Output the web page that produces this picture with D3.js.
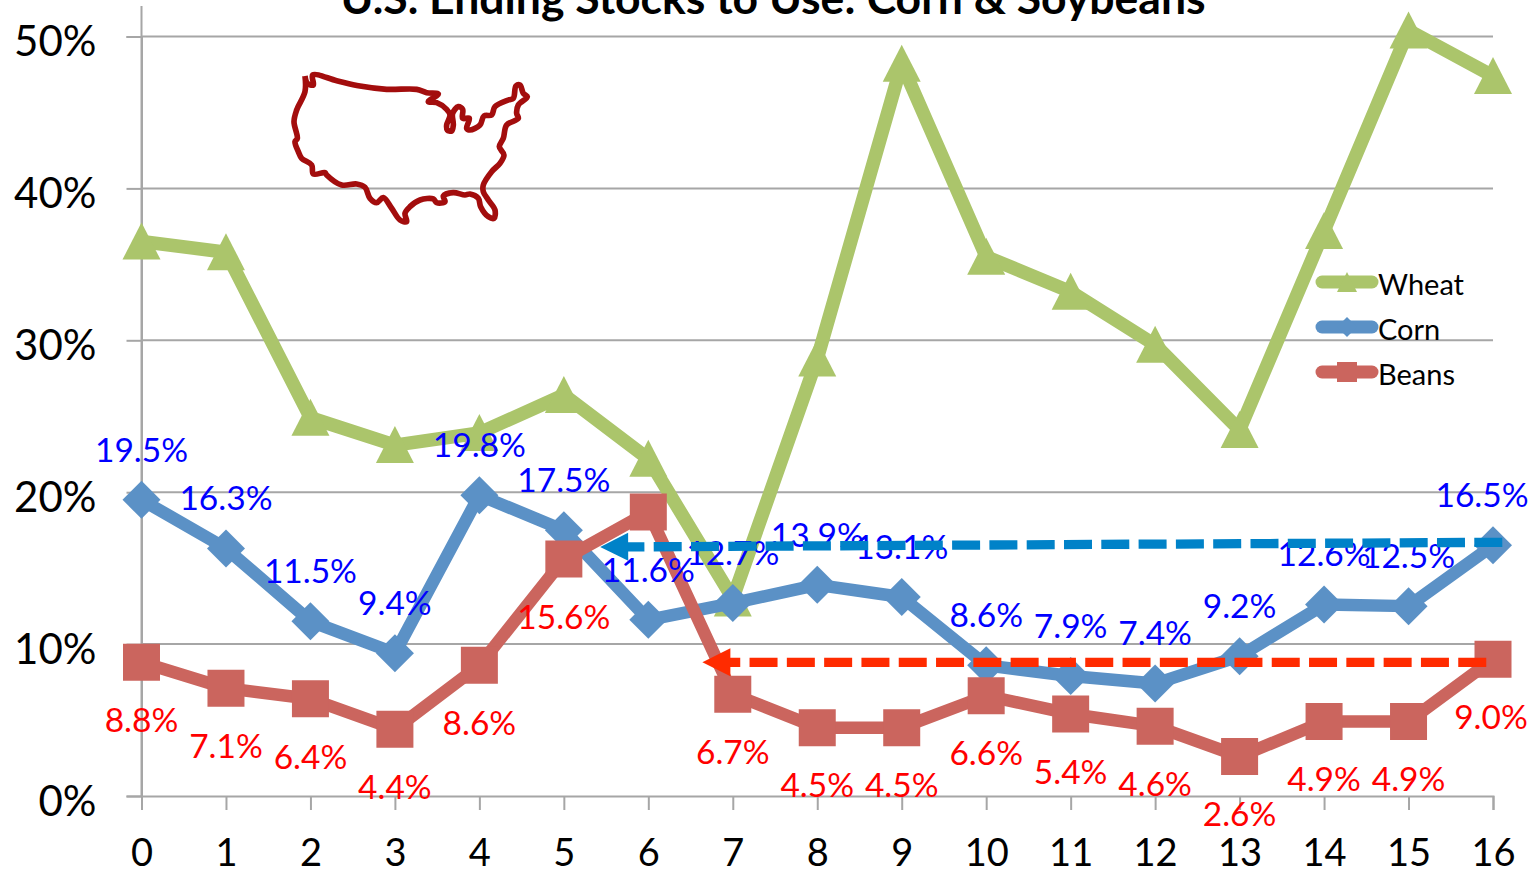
<!DOCTYPE html>
<html>
<head>
<meta charset="utf-8">
<script src="https://cdn.jsdelivr.net/npm/d3@7"></script>
<style>
	html, body { margin: 0; padding: 0; background: #fff; overflow: hidden; }
	text { font-family: Lato, "Open Sans", sans-serif; }
	.tick line, .domain { stroke: #a6a6a6; stroke-width: 2; }
</style>
</head>
<body>
<div class="chart"></div>
<script>
const years = d3.range(0, 17);
const yTicks = [0, 10, 20, 30, 40, 50];
const wheat = [36.5, 35.8, 24.9, 23.1, 23.9, 26.4, 22.2, 13.0, 28.8, 48.2, 35.5, 33.2, 29.7, 24.1, 37.2, 50.4, 47.4];
const corn = [19.5, 16.3, 11.5, 9.4, 19.8, 17.5, 11.6, 12.7, 13.9, 13.1, 8.6, 7.9, 7.4, 9.2, 12.6, 12.5, 16.5];
const beans = [8.8, 7.1, 6.4, 4.4, 8.6, 15.6, 18.7, 6.7, 4.5, 4.5, 6.6, 5.4, 4.6, 2.6, 4.9, 4.9, 9.0];
const hiddenBeanLabels = [6];
const legendNames = ["Wheat", "Corn", "Beans"];
// dashed arrows: [from x, from value, to x, to value]
const cornArrow = [16.11, 16.7, 5.43, 16.4];
const beanArrow = [15.92, 8.8, 6.64, 8.8];
// map outline
const usOutline = [[105,78],[112,100],[130,105],[128,75],[200,92],[270,108],[350,118],[440,118],[470,128],[505,132],[475,155],[500,158],[530,178],[540,195],[530,225],[532,240],[545,243],[550,225],[548,190],[565,170],[578,178],[578,205],[598,205],[590,235],[600,240],[630,225],[642,198],[665,195],[675,170],[715,150],[730,145],[738,108],[750,105],[760,130],[772,140],[745,165],[740,190],[745,205],[710,225],[700,265],[688,290],[702,315],[690,340],[665,365],[640,405],[640,425],[655,450],[675,480],[672,505],[655,500],[632,470],[625,445],[600,432],[585,435],[550,428],[520,438],[525,455],[500,458],[490,447],[450,450],[420,470],[405,490],[410,515],[390,510],[365,475],[340,443],[320,458],[300,445],[285,412],[260,402],[215,405],[170,375],[165,368],[130,372],[125,345],[95,325],[85,305],[75,275],[82,265],[72,215],[80,180],[105,125],[105,78]];

const width = 1535;
const height = 873;

const scaleX = d3.scaleLinear().domain([0, 16]).range([141.5, 1493]);
const scaleY = d3.scaleLinear().domain([0, 50]).range([796, 36.5]);

const colors = { wheat: "#abc56b", corn: "#5b91c6", beans: "#cb655e" };
const triangle = "M0,-19L19,18L-19,18Z";
const square = "M-18.5,-18.5H18.5V18.5H-18.5Z";
const diamond = "M0,-19L19,0L0,19L-19,0Z";

const svg = d3.select(".chart")
	.append("svg")
		.attr("width", width)
		.attr("height", height)
		.style("display", "block");

svg.append("text")
	.attr("x", 773)
	.attr("y", 13.5)
	.attr("text-anchor", "middle")
	.attr("font-size", 44.5)
	.attr("font-weight", 700)
	.text("U.S. Ending Stocks to Use: Corn & Soybeans");

// gridlines
svg.append("g")
	.selectAll("line")
		.data(yTicks.slice(1)).enter()
	.append("line")
		.attr("x1", scaleX(0))
		.attr("x2", scaleX(16))
		.attr("y1", (d) => scaleY(d))
		.attr("y2", (d) => scaleY(d))
		.attr("stroke", "#a6a6a6")
		.attr("stroke-width", 2);

// axes
const xAxis = d3.axisBottom(scaleX).tickValues(years).tickSize(14).tickPadding(29).tickFormat((d) => d);
svg.append("g")
	.attr("transform", `translate(0,${scaleY(0)})`)
	.call(xAxis)
	.call((g) => g.selectAll("text").attr("font-size", 38).attr("fill", "#000"));

const yAxis = d3.axisLeft(scaleY).tickValues(yTicks).tickSize(15).tickPadding(30).tickFormat((d) => `${d}%`);
svg.append("g")
	.attr("transform", `translate(${scaleX(0)},0)`)
	.call(yAxis)
	.call((g) => g.selectAll("text").attr("font-size", 42).attr("fill", "#000").attr("dy", "0.46em"));

svg.append("line")
	.attr("x1", scaleX(0))
	.attr("x2", scaleX(0))
	.attr("y1", scaleY(52))
	.attr("y2", scaleY(0))
	.attr("stroke", "#a6a6a6")
	.attr("stroke-width", 2);

// map
svg.append("path")
	.attr("transform", "translate(270,50) scale(0.3333)")
	.attr("d", d3.line().curve(d3.curveCatmullRom)(usOutline))
	.attr("fill", "none")
	.attr("stroke", "#a30d0d")
	.attr("stroke-width", 17)
	.attr("stroke-linejoin", "round");

// series
const line = d3.line().x((d, i) => scaleX(i)).y((d) => scaleY(d));

function drawSeries(values, color, marker, lineWidth) {
	svg.append("path")
		.attr("d", line(values))
		.attr("fill", "none")
		.attr("stroke", color)
		.attr("stroke-width", lineWidth)
		.attr("stroke-linejoin", "round");
	svg.append("g")
		.selectAll("path")
			.data(values).enter()
		.append("path")
			.attr("d", marker)
			.attr("fill", color)
			.attr("transform", (d, i) => `translate(${scaleX(i)},${scaleY(d)})`);
}

drawSeries(wheat, colors.wheat, triangle, 13.5);
drawSeries(corn, colors.corn, diamond, 12.5);
drawSeries(beans, colors.beans, square, 12.5);

// value labels
svg.append("g")
	.selectAll("text")
		.data(corn).enter()
	.append("text")
		.attr("x", (d, i) => scaleX(i) - (i === 16 ? 11 : 0))
		.attr("y", (d) => scaleY(d) - 50)
		.attr("dy", "0.35em")
		.attr("text-anchor", "middle")
		.attr("font-size", 33.5)
		.attr("fill", "#0000ff")
		.text((d) => `${d.toFixed(1)}%`);

const beanLabels = beans
	.map((value, i) => ({ value, i }))
	.filter((d) => !hiddenBeanLabels.includes(d.i));

svg.append("g")
	.selectAll("text")
		.data(beanLabels).enter()
	.append("text")
		.attr("x", (d) => scaleX(d.i) - (d.i === 16 ? 2 : 0))
		.attr("y", (d) => scaleY(d.value) + 58)
		.attr("dy", "0.35em")
		.attr("text-anchor", "middle")
		.attr("font-size", 33.5)
		.attr("fill", "#ff0000")
		.text((d) => `${d.value.toFixed(1)}%`);

// dashed arrows
function drawArrow(a, color) {
	const tip = [scaleX(a[2]), scaleY(a[3])];
	const start = [scaleX(a[0]), scaleY(a[1])];
	const angle = Math.atan2(start[1] - tip[1], start[0] - tip[0]);
	svg.append("line")
		.attr("x1", start[0])
		.attr("y1", start[1])
		.attr("x2", tip[0] + 27)
		.attr("y2", tip[1])
		.attr("stroke", color)
		.attr("stroke-width", 9.3)
		.attr("stroke-dasharray", "28,9.3");
	svg.append("path")
		.attr("d", "M0,0L28,-14V14Z")
		.attr("fill", color)
		.attr("transform", `translate(${tip[0]},${tip[1]}) rotate(${angle * 180 / Math.PI})`);
}

drawArrow(cornArrow, "#0082c8");
drawArrow(beanArrow, "#ff2b00");

// legend
const legendMarkers = [
	{ color: colors.wheat, d: "M0,-10L10,10H-10Z" },
	{ color: colors.corn, d: "M0,-10L10,0L0,10L-10,0Z" },
	{ color: colors.beans, d: "M-10,-10H10V10H-10Z" }
];
const legendY = d3.scalePoint().domain(legendNames).range([282, 372]);

const legend = svg.append("g")
	.selectAll("g")
		.data(legendNames).enter()
	.append("g")
		.attr("transform", (d) => `translate(0,${legendY(d)})`);

legend.append("line")
	.attr("x1", 1322)
	.attr("x2", 1372)
	.attr("stroke", (d, i) => legendMarkers[i].color)
	.attr("stroke-width", 13)
	.attr("stroke-linecap", "round");

legend.append("path")
	.attr("transform", "translate(1347,0)")
	.attr("d", (d, i) => legendMarkers[i].d)
	.attr("fill", (d, i) => legendMarkers[i].color);

legend.append("text")
	.attr("x", 1378)
	.attr("y", 3)
	.attr("dy", "0.35em")
	.attr("font-size", 29)
	.attr("fill", "#000")
	.text((d) => d);
</script>
</body>
</html>
